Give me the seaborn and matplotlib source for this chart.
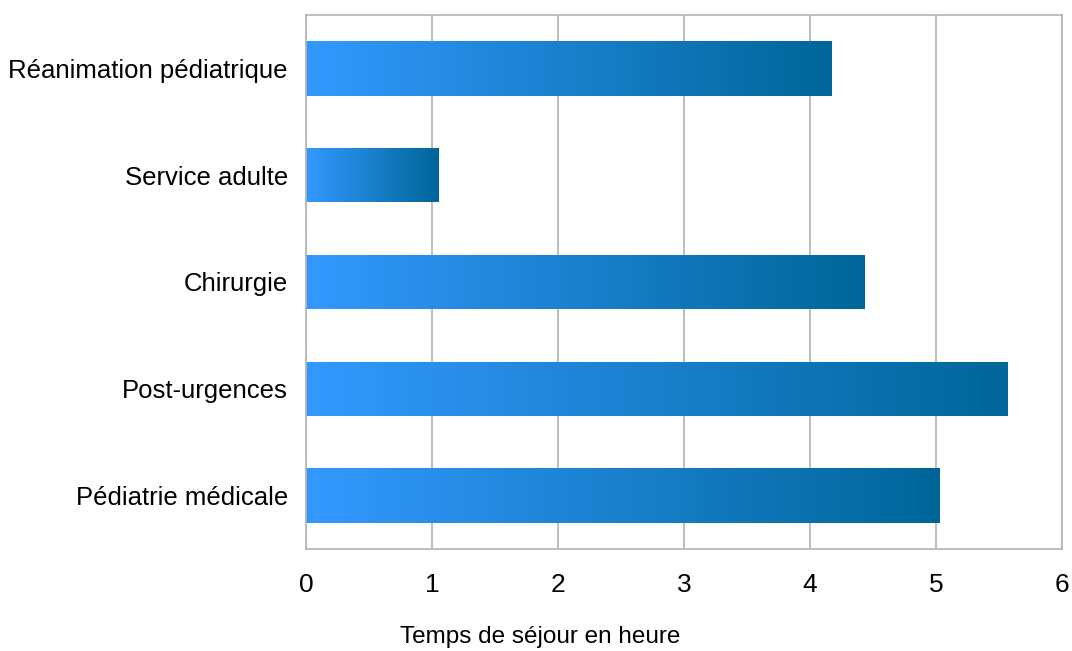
import numpy as np
import pandas as pd
import matplotlib
matplotlib.use('Agg')
import matplotlib.pyplot as plt
import seaborn as sns
from matplotlib.colors import LinearSegmentedColormap

# données du graphique
services = ['Réanimation pédiatrique', 'Service adulte', 'Chirurgie',
            'Post-urgences', 'Pédiatrie médicale']
temps = [4.17, 1.05, 4.43, 5.57, 5.03]
x_ticks = [0, 1, 2, 3, 4, 5, 6]

sns.set_style('white')
plt.rcParams['font.family'] = ['Liberation Sans', 'DejaVu Sans']

df = pd.DataFrame({'service': services, 'temps': temps})

fig = plt.figure(figsize=(10.72, 6.51), dpi=100)
ax = fig.add_axes([0.2854, 0.1567, 0.7053, 0.8203])

sns.barplot(data=df, y='service', x='temps', orient='h', width=0.51,
            color='#3399ff', ax=ax, zorder=2)

# dégradé horizontal sur chaque barre
cmap = LinearSegmentedColormap.from_list('bleu', ['#3399ff', '#006699'])
grad = np.linspace(0, 1, 256).reshape(1, -1)
for p in ax.patches:
    x0, y0 = p.get_x(), p.get_y()
    w, h = p.get_width(), p.get_height()
    p.set_facecolor('none')
    p.set_edgecolor('none')
    im = ax.imshow(grad, cmap=cmap, aspect='auto', extent=[x0, x0 + w, y0 + h, y0],
                   zorder=2, interpolation='bilinear')
    im.set_clip_path(p)

ax.set_xlim(0, 6)
ax.set_ylim(4.5, -0.5)
ax.set_xticks(x_ticks)
ax.xaxis.grid(True, color='#b3b3b3', linewidth=1.2, zorder=0)
ax.set_axisbelow(True)

for s in ax.spines.values():
    s.set_visible(True)
    s.set_color('#b3b3b3')
    s.set_linewidth(1.2)

ax.tick_params(axis='x', length=11, width=1.2, color='#b3b3b3', labelsize=19, pad=6,
               labelcolor='black')
ax.set_yticks(range(len(services)))
ax.set_yticklabels(services)
ax.tick_params(axis='y', which='major', length=0, labelsize=18.5, pad=13, labelcolor='black')
ax.set_yticks(np.arange(-0.5, len(services), 1.0), minor=True)
ax.tick_params(axis='y', which='minor', length=11, width=1.2, color='#b3b3b3')

ax.set_ylabel('')
ax.set_xlabel('Temps de séjour en heure', fontsize=17.5, color='black')
ax.xaxis.set_label_coords(0.3095, -0.165)
ax.xaxis.label.set_va('center')

fig.savefig('out.png', dpi=100)
